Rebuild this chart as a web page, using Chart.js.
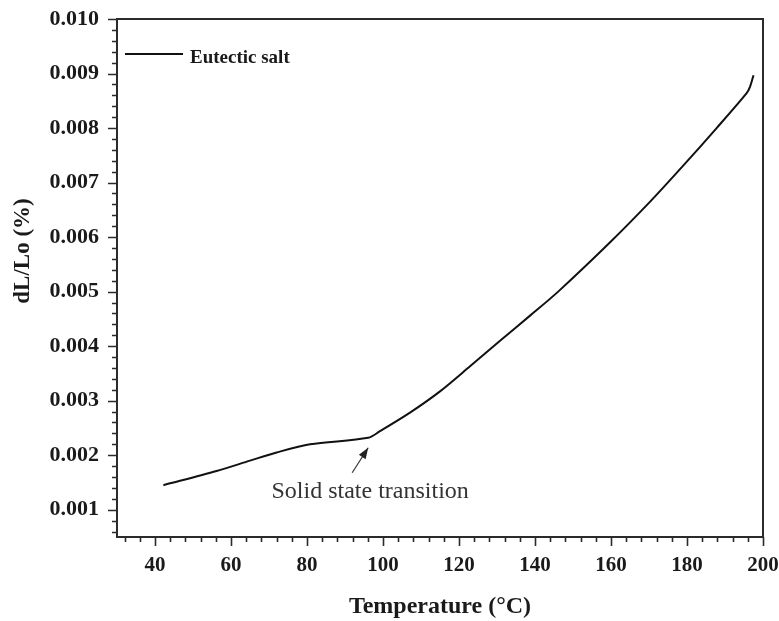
<!DOCTYPE html>
<html>
<head>
<meta charset="utf-8">
<title>Eutectic salt dilatometry</title>
<script src="https://cdn.jsdelivr.net/npm/chart.js@4.4.1/dist/chart.umd.min.js"></script>
<style>
  html, body { margin: 0; padding: 0; background: #fff; }
  #wrap { width: 779px; height: 621px; }
</style>
</head>
<body>
<div id="wrap"><canvas id="myChart" width="779" height="621"></canvas></div>
<script>
'use strict';

// dilatometer run, heating
var temperature = [42.2, 56.2, 65.0, 72.0, 80.8, 96.1, 99.2, 107.1, 115.0, 122.9, 130.8, 138.7,
                   146.1, 159.7, 170.3, 179.0, 187.8, 195.7, 196.6, 197.5];
var dLLo = [0.00145, 0.00171, 0.00190, 0.00205, 0.00220, 0.00232, 0.00244, 0.00278, 0.00317, 0.00363, 0.00410, 0.00456,
            0.00500, 0.00590, 0.00665, 0.00731, 0.00800, 0.00864, 0.00876, 0.00897];

var xTicks = [40, 60, 80, 100, 120, 140, 160, 180, 200];
var yTicks = [0.001, 0.002, 0.003, 0.004, 0.005, 0.006, 0.007, 0.008, 0.009, 0.010];

var seriesName = 'Eutectic salt';
var noteText = 'Solid state transition';
var noteAt = [96.1, 0.00232];   // kink the arrow points at
var xTitle = 'Temperature (\u00b0C)';
var yTitle = 'dL/Lo (%)';

var axisColor = '#2b2b2b';
var serif = "'Liberation Serif', 'Times New Roman', serif";

var points = temperature.map(function (t, i) { return { x: t, y: dLLo[i] }; });

// box, minor/major ticks, titles, legend and the arrow note
var decorPlugin = {
  id: 'decor',
  afterDraw: function (chart) {
    var ctx = chart.ctx, a = chart.chartArea;
    var xs = chart.scales.x, ys = chart.scales.y;
    ctx.save();
    ctx.strokeStyle = axisColor;
    ctx.lineWidth = 2;
    ctx.strokeRect(a.left, a.top, a.right - a.left, a.bottom - a.top);

    ctx.lineWidth = 1.6;
    ctx.beginPath();
    for (var v = 32; v <= 200; v += 4) {
      var px = Math.round(xs.getPixelForValue(v)) + 0.5;
      var len = (v % 20 === 0) ? 9 : 5;
      ctx.moveTo(px, a.bottom);
      ctx.lineTo(px, a.bottom + len);
    }
    for (var k = 3; k <= 50; k++) {
      var py = Math.round(ys.getPixelForValue(k * 0.0002)) + 0.5;
      var l = (k % 5 === 0) ? 9 : 5;
      ctx.moveTo(a.left, py);
      ctx.lineTo(a.left - l, py);
    }
    ctx.stroke();

    // axis titles
    ctx.fillStyle = '#1a1a1a';
    ctx.font = 'bold 24px ' + serif;
    ctx.textAlign = 'center';
    ctx.textBaseline = 'middle';
    ctx.fillText(xTitle, (a.left + a.right) / 2, 607);
    ctx.save();
    ctx.translate(23, 251);
    ctx.rotate(-Math.PI / 2);
    ctx.font = 'bold 23px ' + serif;
    ctx.fillText(yTitle, 0, 0);
    ctx.restore();

    // legend inside the box
    ctx.strokeStyle = '#111';
    ctx.lineWidth = 2;
    ctx.beginPath();
    ctx.moveTo(a.left + 8, a.top + 35);
    ctx.lineTo(a.left + 66, a.top + 35);
    ctx.stroke();
    ctx.font = 'bold 19px ' + serif;
    ctx.textAlign = 'left';
    ctx.fillText(seriesName, a.left + 73, a.top + 39);

    // note with arrow
    var kx = xs.getPixelForValue(noteAt[0]);
    var ky = ys.getPixelForValue(noteAt[1]);
    var tipX = kx, tipY = ky + 10;
    var tailX = kx - 16, tailY = ky + 35;
    ctx.strokeStyle = '#333';
    ctx.lineWidth = 1.2;
    ctx.beginPath();
    ctx.moveTo(tailX, tailY);
    ctx.lineTo(tipX, tipY);
    ctx.stroke();
    var ang = Math.atan2(tipY - tailY, tipX - tailX);
    ctx.fillStyle = '#222';
    ctx.beginPath();
    ctx.moveTo(tipX, tipY);
    ctx.lineTo(tipX - 11 * Math.cos(ang) + 4 * Math.sin(ang), tipY - 11 * Math.sin(ang) - 4 * Math.cos(ang));
    ctx.lineTo(tipX - 11 * Math.cos(ang) - 4 * Math.sin(ang), tipY - 11 * Math.sin(ang) + 4 * Math.cos(ang));
    ctx.closePath();
    ctx.fill();
    ctx.fillStyle = '#333';
    ctx.font = '24px ' + serif;
    ctx.textAlign = 'center';
    ctx.fillText(noteText, kx + 2, ky + 54);
    ctx.restore();
  }
};

// plot box is fixed: left 117, top 19, right 763, bottom 537
function noPad(s) {
  s.paddingTop = 0;
  s.paddingBottom = 0;
  s.paddingLeft = 0;
  s.paddingRight = 0;
}

var ctx = document.getElementById('myChart').getContext('2d');
var myChart = new Chart(ctx, {
  type: 'line',
  data: {
    datasets: [{
      label: seriesName,
      data: points,
      borderColor: '#111',
      borderWidth: 2,
      pointRadius: 0,
      fill: false,
      tension: 0.3
    }]
  },
  options: {
    responsive: false,
    animation: false,
    layout: { autoPadding: false, padding: { top: 19, right: 16, left: 0, bottom: 0 } },
    plugins: { legend: { display: false }, tooltip: { enabled: false } },
    scales: {
      x: {
        type: 'linear',
        min: 30,
        max: 200,
        grid: { display: false, drawTicks: false },
        border: { display: false },
        afterBuildTicks: function (s) { s.ticks = xTicks.map(function (v) { return { value: v }; }); },
        afterFit: function (s) { s.height = 84; noPad(s); },
        ticks: {
          padding: 16,
          color: '#1a1a1a',
          font: { family: serif, size: 21, weight: 'bold' },
          maxRotation: 0
        }
      },
      y: {
        type: 'linear',
        min: 0.0005,
        max: 0.010,
        grid: { display: false, drawTicks: false },
        border: { display: false },
        afterBuildTicks: function (s) { s.ticks = yTicks.map(function (v) { return { value: v }; }); },
        afterFit: function (s) { s.width = 117; noPad(s); },
        ticks: {
          padding: 18,
          color: '#1a1a1a',
          font: { family: serif, size: 22, weight: 'bold' },
          callback: function (v) { return v.toFixed(3); }
        }
      }
    }
  },
  plugins: [decorPlugin]
});
</script>
</body>
</html>
